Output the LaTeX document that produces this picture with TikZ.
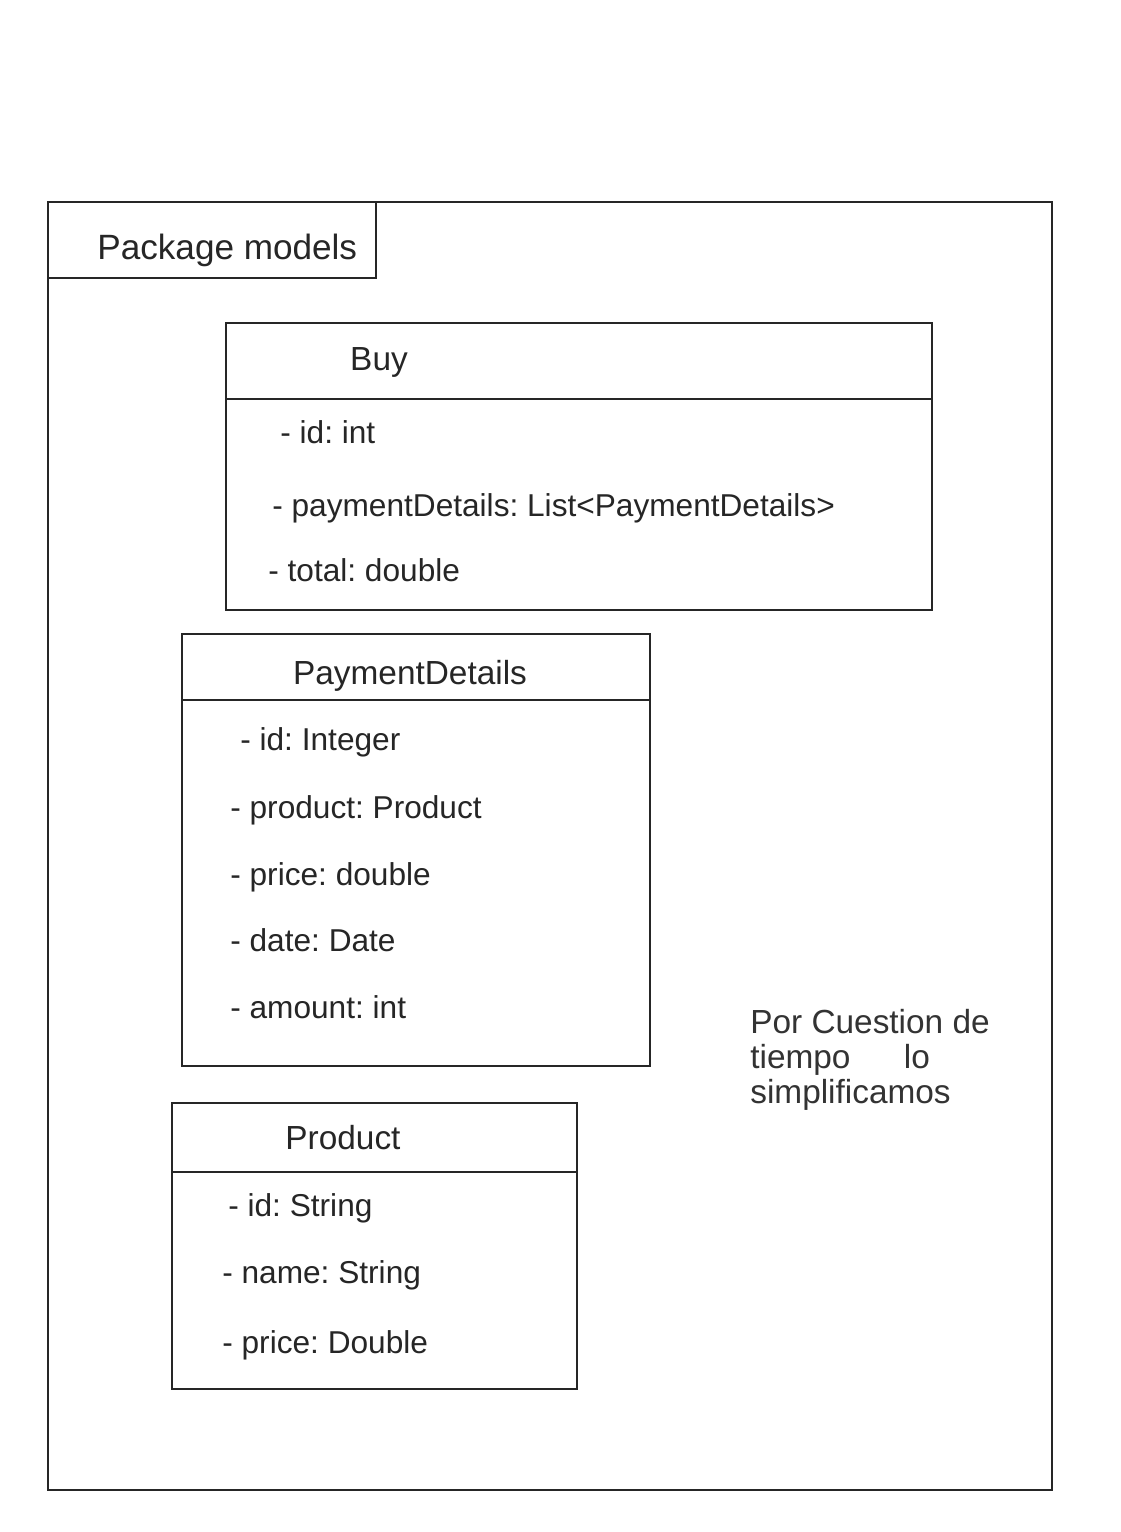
\documentclass[tikz,border=0pt]{standalone}
\usepackage{fontspec}
\setmainfont{Liberation Sans}
\frenchspacing
\tikzset{
  frame/.style={draw=black!85, line width=1.6pt},
  attr/.style={anchor=west, inner sep=0pt, font=\fontsize{18}{21}\selectfont, text=black!85},
  cname/.style={inner sep=0pt, font=\fontsize{19}{22}\selectfont, text=black!85},
  note/.style={anchor=west, inner sep=0pt, font=\fontsize{19}{20}\selectfont, text=black!80, align=left}
}
\begin{document}
\begin{tikzpicture}[x=0.02cm,y=-0.02cm]
\useasboundingbox[fill=white] (0,0) rectangle (1120,1532);
% package frame
\draw[frame] (48,202) rectangle (1052,1490);
\draw[frame] (48,278) -- (376,278) -- (376,202);
\node[anchor=west, inner sep=0pt, font=\fontsize{20}{23}\selectfont, text=black!85] (pkg) at (97,250) {Package models};

% Buy
\draw[frame] (226,323) rectangle (932,610);
\draw[frame] (226,399) -- (932,399);
\node[cname] (buy) at (379,362) {Buy};
\node[attr] (b1) at (280,432) {- id: int};
\node[attr] (b2) at (272,508) {- paymentDetails: List<PaymentDetails>};
\node[attr] (b3) at (268,570) {- total: double};

% PaymentDetails
\draw[frame] (182,634) rectangle (650,1066);
\draw[frame] (182,700) -- (650,700);
\node[cname] (pd) at (410,676) {PaymentDetails};
\node[attr] (p1) at (240,742) {- id: Integer};
\node[attr] (p2) at (230,810) {- product: Product};
\node[attr] (p3) at (230,877) {- price: double};
\node[attr] (p4) at (230,940) {- date: Date};
\node[attr] (p5) at (230,1007) {- amount: int};

% Product
\draw[frame] (172,1103) rectangle (577,1389);
\draw[frame] (172,1172) -- (577,1172);
\node[cname] (prod) at (343,1138) {Product};
\node[attr] (r1) at (228,1208) {- id: String};
\node[attr] (r2) at (222,1275) {- name: String};
\node[attr] (r3) at (222,1345) {- price: Double};

% note
\node[note] (nt) at (750,1060) {Por Cuestion de\\tiempo\hspace{1.6em}lo\\simplificamos};
\end{tikzpicture}
\end{document}
